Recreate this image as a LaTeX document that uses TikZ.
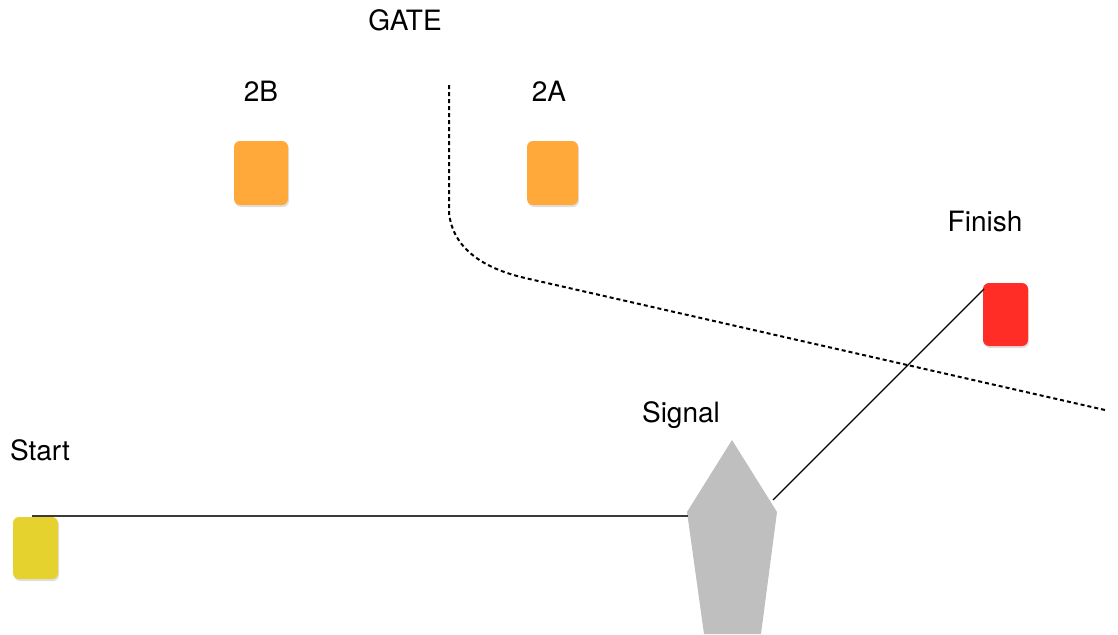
\documentclass[tikz,border=0pt]{standalone}
\usepackage{fontspec}
\setmainfont{TeX Gyre Heros}
\usetikzlibrary{shadows}
\definecolor{cyellow}{HTML}{E6D22E}
\definecolor{corange}{HTML}{FFA93A}
\definecolor{cred}{HTML}{FF2D26}
\definecolor{cgray}{HTML}{BFBFBF}
\definecolor{cline}{HTML}{3A3A3A}
\begin{document}
\begin{tikzpicture}[x=1pt,y=-1pt,
  card/.style={rounded corners=6pt, draw=none, drop shadow={shadow xshift=1pt, shadow yshift=-2pt, opacity=0.25}},
  lbl/.style={font=\fontsize{28}{32}\selectfont, text=black, inner sep=0pt},
  conn/.style={line width=1.2pt, draw=cline},
  gate/.style={line width=2pt, dash pattern=on 4pt off 3pt}]
\useasboundingbox (0,0) rectangle (1118,634);
% labels
\node[lbl] (tgate) at (405,20) {GATE};
\node[lbl] (t2b) at (261,91) {2B};
\node[lbl] (t2a) at (549,91) {2A};
\node[lbl] (tfin) at (985,222) {Finish};
\node[lbl] (tsig) at (681,415) {Signal};
\node[lbl] (tstart) at (40,450) {Start};
% cards
\fill[card, corange] (234,141) rectangle (288,205);
\fill[card, corange] (527,141) rectangle (578,205);
\fill[card, cred] (983,283) rectangle (1028,346);
\fill[card, cyellow] (13,517) rectangle (58,579);
\coordinate (startc) at (32,516);
\coordinate (finc) at (984,289);
% signal
\fill[cgray] (732,440) -- (777,512) -- (761,634) -- (704,634) -- (687,512) -- cycle;
\coordinate (sigl) at (688,516);
\coordinate (sigr) at (773,500);
% connectors
\draw[conn] (startc) -- (sigl);
\draw[line width=1.2pt, draw=black] (sigr) -- (finc);
% gate line
\coordinate (g1) at (449,85);
\coordinate (g4) at (1105,410);
\draw[gate] (g1) -- (449,213) .. controls (453,248) and (482,268) .. (525,278) -- (g4);
\end{tikzpicture}
\end{document}
